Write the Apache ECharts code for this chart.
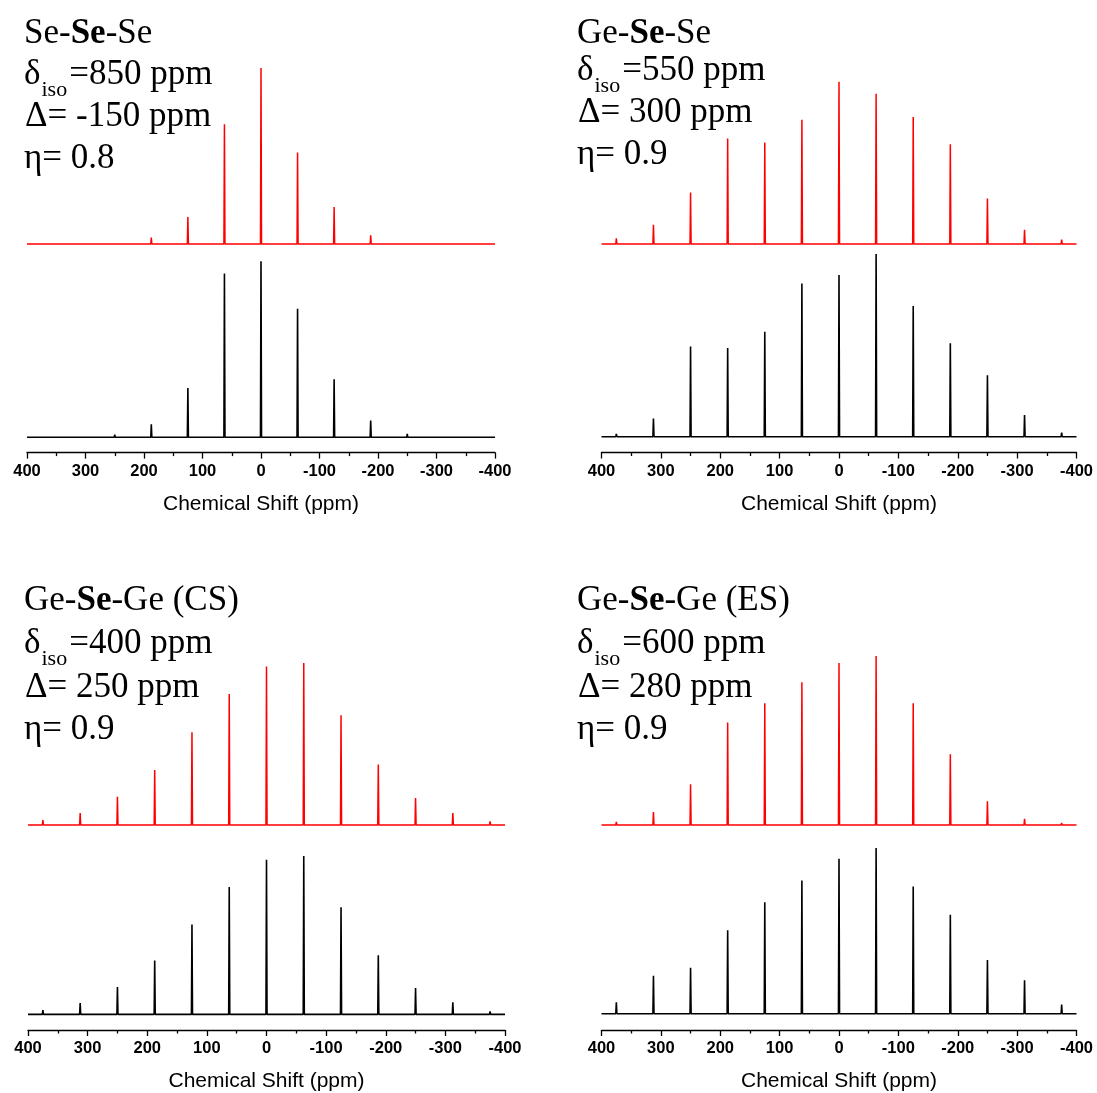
<!DOCTYPE html>
<html>
<head>
<meta charset="utf-8">
<script src="https://cdn.jsdelivr.net/npm/echarts@6/dist/echarts.min.js"></script>
<style>
html,body{margin:0;padding:0;background:#fff;}
#chart{width:1097px;height:1093px;}
</style>
</head>
<body>
<div id="chart"></div>
<script>
// Sideband positions (ppm)
const shifts = [375, 312.5, 250, 187.5, 125, 62.5, 0, -62.5, -125, -187.5, -250, -312.5, -375];
// Relative intensities (max = 100) — red = simulated, black = experimental
const seSeSeRed   = [0, 0, 0.8, 3.6, 15.3, 68, 100, 52, 21, 4.9, 1.0, 0, 0];
const seSeSeBlack = [0, 0, 1.5, 7.4, 28, 93, 100, 73, 33, 9.5, 1.9, 0, 0];
const geSeSeRed   = [3.5, 11.9, 31.8, 65, 62.6, 76.6, 100, 92.6, 78.2, 61.4, 28.1, 8.8, 2.7];
const geSeSeBlack = [1.5, 10, 49.3, 48.5, 57.5, 83.9, 88.5, 100, 71.5, 51.1, 33.6, 11.9, 2.2];
const geSeGeCSRed   = [3.1, 7.4, 17.5, 34, 57.2, 80.9, 97.9, 100, 67.7, 37.4, 16.7, 7.4, 2.3];
const geSeGeCSBlack = [2.7, 7.2, 17.3, 34, 56.7, 80.4, 97.7, 100, 67.6, 37.3, 16.7, 7.6, 1.9];
const geSeGeESRed   = [1.8, 7.7, 24.1, 60.6, 72, 84.4, 95.9, 100, 72, 41.8, 14, 3.6, 1.2];
const geSeGeESBlack = [6.9, 22.9, 27.7, 50.4, 67.2, 80.4, 93.5, 100, 76.7, 59.7, 32.4, 20.2, 5.5];

const xTicks = [400, 300, 200, 100, 0, -100, -200, -300, -400];
const axisTitle = 'Chemical Shift (ppm)';

const labels = [
  {title: 'Se-{b|Se}-Se', diso: '850', delta: '-150', eta: '0.8'},
  {title: 'Ge-{b|Se}-Se', diso: '550', delta: '300', eta: '0.9'},
  {title: 'Ge-{b|Se}-Ge (CS)', diso: '400', delta: '250', eta: '0.9'},
  {title: 'Ge-{b|Se}-Ge (ES)', diso: '600', delta: '280', eta: '0.9'}
];

function spectrum(pos, vals) {
  const pts = [[400, 0]];
  for (let i = 0; i < pos.length; i++) {
    const p = pos[i], v = vals[i];
    if (v <= 0) continue;
    pts.push([p + 0.9, 0], [p, v], [p - 0.9, 0]);
  }
  pts.push([-400, 0]);
  return pts;
}

// layout (pixels)
const panels = [
  {left: 27, width: 468, redTop: 68, redH: 176, blkTop: 261.3, blkH: 176, offset: 15.3, tx: 24, ty: [37, 78, 120, 162], red: seSeSeRed, blk: seSeSeBlack},
  {left: 601.5, width: 475, redTop: 81.7, redH: 162.3, blkTop: 254, blkH: 182.7, offset: 15.8, tx: 577, ty: [37, 74, 116, 158], red: geSeSeRed, blk: geSeSeBlack},
  {left: 28, width: 477, redTop: 663, redH: 162, blkTop: 856, blkH: 161.7, offset: 15.6, tx: 24, ty: [604, 647, 691, 733], red: geSeGeCSRed, blk: geSeGeCSBlack},
  {left: 601.5, width: 475, redTop: 656, redH: 169, blkTop: 848, blkH: 168.7, offset: 16.3, tx: 577, ty: [604, 647, 691, 733], red: geSeGeESRed, blk: geSeGeESBlack}
];

const grid = [], xAxis = [], yAxis = [], series = [], graphic = [];
const serif = '"Liberation Serif","Times New Roman",serif';
const sans = '"Liberation Sans",Arial,sans-serif';
panels.forEach((p, k) => {
  const gi = grid.length;
  grid.push({left: p.left, width: p.width, top: p.redTop, height: p.redH});
  grid.push({left: p.left, width: p.width, top: p.blkTop, height: p.blkH});
  xAxis.push({gridIndex: gi, type: 'value', min: -400, max: 400, inverse: true, show: false});
  xAxis.push({
    gridIndex: gi + 1, type: 'value', min: -400, max: 400, interval: 100, inverse: true,
    offset: p.offset,
    axisLine: {onZero: false, lineStyle: {color: '#000', width: 1.3}},
    axisTick: {length: 6, lineStyle: {color: '#000', width: 1.3}},
    minorTick: {show: true, splitNumber: 2, length: 3.5, lineStyle: {color: '#000', width: 1.3}},
    splitLine: {show: false},
    axisLabel: {color: '#000', fontWeight: 'bold', fontSize: 16.5, fontFamily: sans, margin: 10,
      formatter: v => (xTicks.indexOf(v) >= 0 ? String(v) : '')},
    name: axisTitle, nameLocation: 'middle', nameGap: 41,
    nameTextStyle: {color: '#000', fontSize: 21, fontFamily: sans}
  });
  yAxis.push({gridIndex: gi, type: 'value', min: 0, max: 100, show: false});
  yAxis.push({gridIndex: gi + 1, type: 'value', min: 0, max: 100, show: false});
  series.push({type: 'line', xAxisIndex: gi, yAxisIndex: gi, data: spectrum(shifts, p.red), showSymbol: false, clip: false,
    lineStyle: {color: '#ff0000', width: 1.5}, animation: false});
  series.push({type: 'line', xAxisIndex: gi + 1, yAxisIndex: gi + 1, data: spectrum(shifts, p.blk), showSymbol: false, clip: false,
    lineStyle: {color: '#000', width: 1.6}, animation: false});

  const L = labels[k];
  graphic.push({type: 'text', left: p.tx, top: p.ty[0] - 21, style: {
    text: L.title, font: '35px ' + serif, fill: '#000',
    rich: {b: {fontWeight: 'bold', fontSize: 35, fontFamily: serif}}
  }});
  graphic.push({type: 'text', x: p.tx, y: p.ty[1] - 21, style: {
    text: '{a|δ}{s|iso}{a|=' + L.diso + ' ppm}', fill: '#000',
    rich: {
      a: {fontSize: 35, fontFamily: serif, lineHeight: 42, verticalAlign: 'top', fill: '#000'},
      s: {fontSize: 22, fontFamily: serif, lineHeight: 22, verticalAlign: 'top', padding: [22, 2, 0, 1], fill: '#000'}
    }
  }});
  graphic.push({type: 'text', left: p.tx + 1, top: p.ty[2] - 21, style: {
    text: 'Δ= ' + L.delta + ' ppm', font: '35px ' + serif, fill: '#000'
  }});
  graphic.push({type: 'text', left: p.tx, top: p.ty[3] - 21, style: {
    text: 'η= ' + L.eta, font: '35px ' + serif, fill: '#000'
  }});
});

const chart = echarts.init(document.getElementById('chart'), null, {renderer: 'canvas'});
chart.setOption({animation: false, backgroundColor: '#fff', grid, xAxis, yAxis, series, graphic});
</script>
</body>
</html>
